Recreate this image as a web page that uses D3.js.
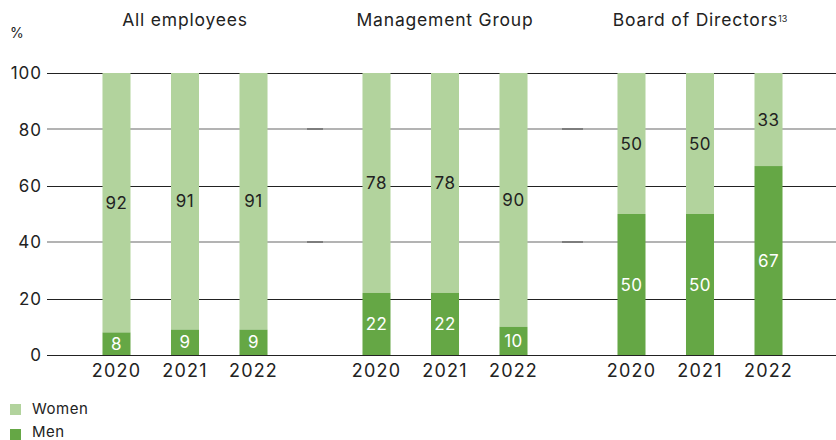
<!DOCTYPE html>
<html>
<head>
<meta charset="utf-8">
<script src="https://cdn.jsdelivr.net/npm/d3@7"></script>
<style>
  body { margin: 0; background: #fff; }
  text { font-family: Inter, "Noto Sans", sans-serif; fill: #222; }
</style>
</head>
<body>
<div class="chart"></div>
<script>
// data
const groups = ["All employees", "Management Group", "Board of Directors"];
const years = ["2020", "2021", "2022"];
const men = [[8, 9, 9], [22, 22, 10], [50, 50, 67]];
const women = [[92, 91, 91], [78, 78, 90], [50, 50, 33]];
const yTicks = [0, 20, 40, 60, 80, 100];

const W = 836, H = 440;
const colWomen = "#b2d39d", colMen = "#65a745";

const svg = d3.select(".chart").append("svg")
    .attr("width", W).attr("height", H);

const y = d3.scaleLinear().domain([0, 100]).range([355, 73]);

// panel centres and bars inside a panel
const panel = d3.scaleOrdinal().domain(groups).range([185, 445, 700]);
const halfW = 138;
const xIn = d3.scaleBand().domain(years).range([-halfW, halfW])
    .paddingInner(0.591).paddingOuter(0.81);

// y labels
svg.append("g").selectAll("text")
    .data(yTicks)
    .join("text")
    .attr("x", 42)
    .attr("y", d => y(d))
    .attr("dy", "0.36em")
    .attr("text-anchor", "end")
    .style("font-size", "17px")
    .style("letter-spacing", "1px")
    .text(d => d);

svg.append("text")
    .attr("x", 10).attr("y", 38)
    .style("font-size", "14px")
    .text("%");

// crisp dark gridlines (0, 40, 80) across the whole width
const dark = d => d === 0 || (d / 20) % 2 === 1;
svg.append("g").selectAll("line")
    .data(yTicks.filter(dark))
    .join("line")
    .attr("x1", 47).attr("x2", W)
    .attr("y1", d => Math.round(y(d)) + 0.5)
    .attr("y2", d => Math.round(y(d)) + 0.5)
    .attr("stroke", "#222")
    .attr("stroke-width", 1);

groups.forEach((g, gi) => {
    const cx = panel(g);
    const left = gi === 0 ? 47 : cx - halfW;
    const right = gi === 2 ? W : cx + halfW;
    const p = svg.append("g");

    // grey gridlines per panel; the overlap between panels gives the darker dashes
    p.selectAll("line")
        .data(yTicks.filter(d => !dark(d)))
        .join("line")
        .attr("x1", left).attr("x2", right)
        .attr("y1", d => Math.round(y(d)))
        .attr("y2", d => Math.round(y(d)))
        .attr("stroke", "#000")
        .attr("stroke-opacity", 0.4)
        .attr("stroke-width", 1.6);

    const bars = p.append("g").attr("transform", `translate(${cx},0)`);

    // women (stacked above men)
    bars.selectAll(".w")
        .data(years)
        .join("rect")
        .attr("class", "w")
        .attr("x", d => xIn(d))
        .attr("width", xIn.bandwidth())
        .attr("y", y(100))
        .attr("height", (d, i) => y(men[gi][i]) - y(100))
        .attr("fill", colWomen);

    bars.selectAll(".m")
        .data(years)
        .join("rect")
        .attr("class", "m")
        .attr("x", d => xIn(d))
        .attr("width", xIn.bandwidth())
        .attr("y", (d, i) => y(men[gi][i]))
        .attr("height", (d, i) => y(0) - y(men[gi][i]))
        .attr("fill", colMen);

    // value labels
    bars.selectAll(".wl")
        .data(years)
        .join("text")
        .attr("x", d => xIn(d) + xIn.bandwidth() / 2)
        .attr("y", (d, i) => y(men[gi][i] + women[gi][i] / 2))
        .attr("dy", "0.36em")
        .attr("text-anchor", "middle")
        .style("font-size", "17px")
        .style("letter-spacing", "0.5px")
        .text((d, i) => women[gi][i]);

    bars.selectAll(".ml")
        .data(years)
        .join("text")
        .attr("x", d => xIn(d) + xIn.bandwidth() / 2)
        .attr("y", (d, i) => y(men[gi][i] / 2))
        .attr("dy", "0.36em")
        .attr("text-anchor", "middle")
        .style("font-size", "17px")
        .style("letter-spacing", "0.5px")
        .style("fill", "#fff")
        .text((d, i) => men[gi][i]);

    // year labels
    bars.selectAll(".yr")
        .data(years)
        .join("text")
        .attr("x", d => xIn(d) + xIn.bandwidth() / 2)
        .attr("y", 371)
        .attr("dy", "0.36em")
        .attr("text-anchor", "middle")
        .style("font-size", "18px")
        .style("letter-spacing", "1.2px")
        .text(d => d);

    // panel title
    const t = p.append("text")
        .attr("x", cx)
        .attr("y", 20)
        .attr("dy", "0.36em")
        .attr("text-anchor", "middle")
        .style("font-size", "17.5px")
        .style("letter-spacing", "0.8px")
        .text(g);
    if (gi === 2) {
        t.append("tspan")
            .attr("dy", "-0.45em")
            .style("font-size", "9px")
            .style("letter-spacing", "0px")
            .text("13");
    }
});

// legend
const legend = svg.append("g");
[["Women", colWomen], ["Men", colMen]].forEach((d, i) => {
    legend.append("rect")
        .attr("x", 10).attr("y", 404 + i * 25)
        .attr("width", 11).attr("height", 11)
        .attr("fill", d[1]);
    legend.append("text")
        .attr("x", 32).attr("y", 409 + i * 23)
        .attr("dy", "0.36em")
        .style("font-size", "15px")
        .style("letter-spacing", "0.5px")
        .text(d[0]);
});
</script>
</body>
</html>
